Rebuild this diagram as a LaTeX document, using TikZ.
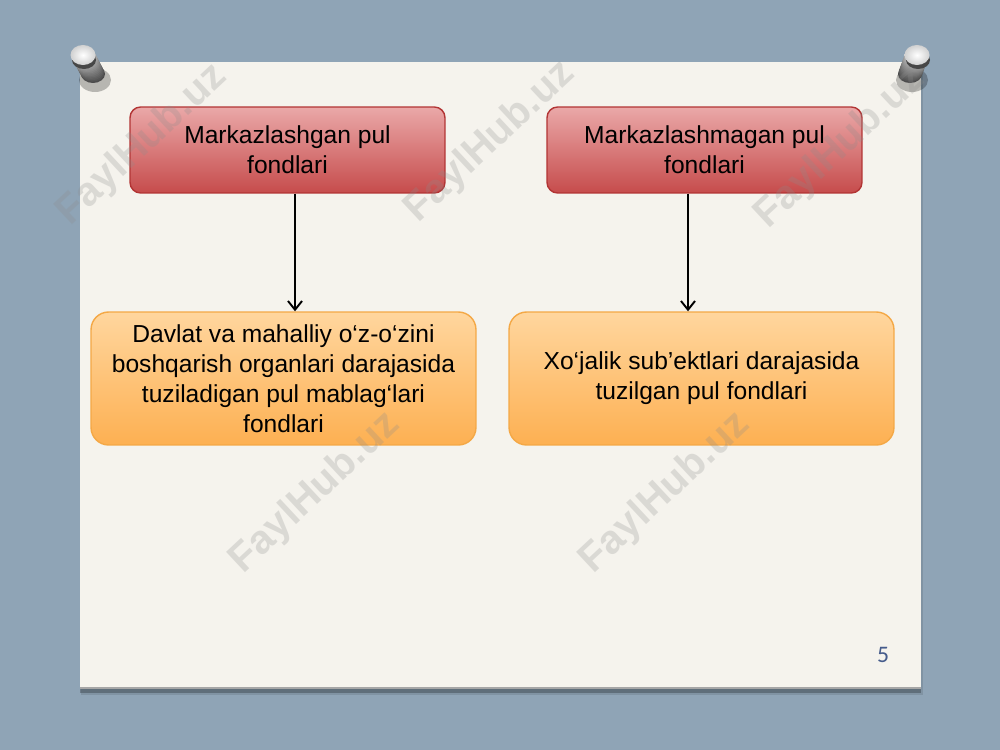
\documentclass[tikz,border=0pt]{standalone}
\usepackage{fontspec}
\setmainfont{Liberation Sans}
\newfontfamily\numfont{Carlito}
\usetikzlibrary{arrows.meta}
\definecolor{bgblue}{RGB}{143,164,182}
\definecolor{paper}{RGB}{245,243,237}
\definecolor{redtop}{RGB}{234,168,168}
\definecolor{redbot}{RGB}{198,76,76}
\definecolor{redline}{RGB}{178,52,52}
\definecolor{ortop}{RGB}{255,214,158}
\definecolor{orbot}{RGB}{253,176,82}
\definecolor{orline}{RGB}{244,168,70}
\definecolor{numblue}{RGB}{70,92,140}
\newcommand\drawpin[4]{%
  \fill[black,opacity=0.25] (#3+2,#4+6) ellipse [x radius=16, y radius=12];
  \foreach \t in {0,1,...,14}{%
    \pgfmathsetmacro\px{#3+(#1-#3)*\t/14}%
    \pgfmathsetmacro\py{#4+(#2-#4)*\t/14}%
    \pgfmathsetmacro\sh{70-3*\t}%
    \fill[black!\sh!white] (\px,\py) ellipse [x radius=12, y radius=9];
  }
  \fill[black!72] (#1+1,#2+5) ellipse [x radius=12, y radius=9];
  \shade[inner color=white, outer color=black!18] (#1,#2) ellipse [x radius=12.5, y radius=10];
}
\tikzset{
  topbox/.style={draw=redline, line width=0.8pt, rounded corners=6pt,
    top color=redtop, bottom color=redbot, minimum width=6.3cm, minimum height=1.72cm,
    align=center, font=\fontsize{14}{17}\selectfont, text=black, inner sep=0pt},
  lowbox/.style={draw=orline, line width=0.8pt, rounded corners=10pt,
    top color=ortop, bottom color=orbot, minimum width=7.7cm, minimum height=2.66cm,
    align=center, font=\fontsize{14}{17}\selectfont, text=black, inner sep=0pt},
  link/.style={draw=black, line width=1.1pt, -{Straight Barb[length=5pt,width=8pt,line width=1.1pt]}},
  wm/.style={font=\bfseries\fontsize{23}{23}\selectfont, text=black!45, opacity=0.25, rotate=43},
  pgnum/.style={font=\numfont\fontsize{13.5}{13.5}\selectfont, text=numblue}
}
\begin{document}
\begin{tikzpicture}[x=0.02cm,y=-0.02cm]
\useasboundingbox (0,0) rectangle (1000,750);
\fill[bgblue] (0,0) rectangle (1000,750);
% paper shadow
\fill[black,opacity=0.10] (81,64) rectangle (923,695);
\fill[black,opacity=0.25] (80,686) rectangle (921,693);
\fill[paper] (80,62) rectangle (921,688);
\draw[black!35, line width=0.6pt] (80,688) -- (921,688);
% pins
\drawpin{83}{55}{93}{74}
\drawpin{917}{55}{910}{74}
% boxes
\node[topbox] (r1) at (287.5,150) {\raisebox{-3pt}{\parbox{6cm}{\centering Markazlashgan pul\\fondlari}}};
\node[topbox] (r2) at (704.5,150) {\raisebox{-3pt}{\parbox{6cm}{\centering Markazlashmagan pul\\fondlari}}};
\node[lowbox] (o1) at (283.5,378.5) {Davlat va mahalliy o‘z-o‘zini\\boshqarish organlari darajasida\\tuziladigan pul mablag‘lari\\fondlari};
\node[lowbox] (o2) at (701.5,378.5) {Xo‘jalik sub’ektlari darajasida\\tuzilgan pul fondlari};
% connectors
\coordinate (a1) at (295,0);
\coordinate (a2) at (688,0);
\draw[link] (r1.south -| a1) -- (o1.north -| a1);
\draw[link] (r2.south -| a2) -- (o2.north -| a2);
% page number
\node[pgnum] (pg) at (883,655) {5};
% watermarks
\node[wm] (w1) at (142,145) {FaylHub.uz};
\node[wm] (w2) at (490,142) {FaylHub.uz};
\node[wm] (w3) at (840,148) {FaylHub.uz};
\node[wm] (w4) at (315,493) {FaylHub.uz};
\node[wm] (w5) at (665,493) {FaylHub.uz};
\end{tikzpicture}
\end{document}
